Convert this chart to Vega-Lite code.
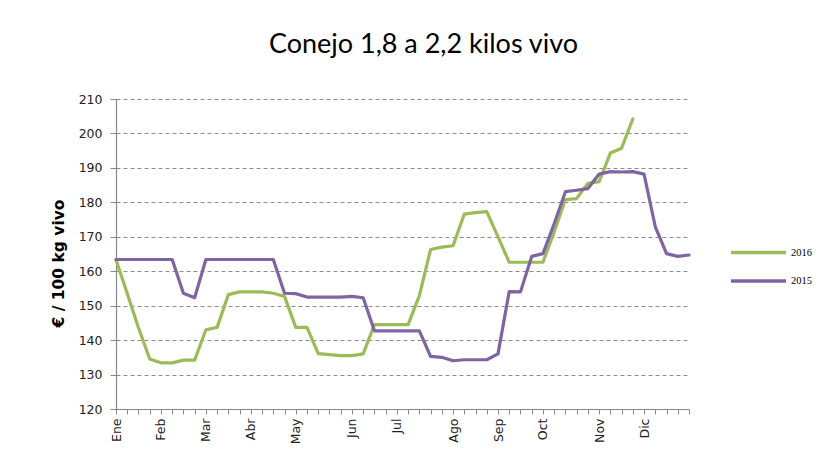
{
  "$schema": "https://vega.github.io/schema/vega-lite/v6.json",
  "autosize": {"type": "none"},
  "width": 573,
  "height": 310,
  "padding": {"left": 116, "top": 99, "right": 140, "bottom": 47},
  "background": "white",
  "title": {
    "text": "Conejo 1,8 a 2,2 kilos vivo",
    "font": "Lato",
    "fontSize": 27,
    "fontWeight": "normal",
    "color": "#000000",
    "anchor": "middle",
    "dx": 21,
    "offset": 34
  },
  "config": {
    "view": {"stroke": null},
    "axis": {
      "labelFont": "DejaVu Sans",
      "labelFontSize": 12.5,
      "labelColor": "#222222",
      "domainColor": "#888888",
      "tickColor": "#888888",
      "domainWidth": 1.2,
      "tickWidth": 1
    }
  },
  "data": {
    "values": [
      {"week": 1, "year": "2016", "price": 163.3},
      {"week": 2, "year": "2016", "price": 153.5},
      {"week": 3, "year": "2016", "price": 143.6},
      {"week": 4, "year": "2016", "price": 134.5},
      {"week": 5, "year": "2016", "price": 133.4},
      {"week": 6, "year": "2016", "price": 133.4},
      {"week": 7, "year": "2016", "price": 134.2},
      {"week": 8, "year": "2016", "price": 134.2},
      {"week": 9, "year": "2016", "price": 143.0},
      {"week": 10, "year": "2016", "price": 143.7},
      {"week": 11, "year": "2016", "price": 153.2},
      {"week": 12, "year": "2016", "price": 154.0},
      {"week": 13, "year": "2016", "price": 154.0},
      {"week": 14, "year": "2016", "price": 154.0},
      {"week": 15, "year": "2016", "price": 153.6},
      {"week": 16, "year": "2016", "price": 152.7},
      {"week": 17, "year": "2016", "price": 143.7},
      {"week": 18, "year": "2016", "price": 143.7},
      {"week": 19, "year": "2016", "price": 136.1},
      {"week": 20, "year": "2016", "price": 135.8},
      {"week": 21, "year": "2016", "price": 135.5},
      {"week": 22, "year": "2016", "price": 135.5},
      {"week": 23, "year": "2016", "price": 136.0},
      {"week": 24, "year": "2016", "price": 144.5},
      {"week": 25, "year": "2016", "price": 144.5},
      {"week": 26, "year": "2016", "price": 144.5},
      {"week": 27, "year": "2016", "price": 144.5},
      {"week": 28, "year": "2016", "price": 152.9},
      {"week": 29, "year": "2016", "price": 166.3},
      {"week": 30, "year": "2016", "price": 167.0},
      {"week": 31, "year": "2016", "price": 167.4},
      {"week": 32, "year": "2016", "price": 176.6},
      {"week": 33, "year": "2016", "price": 177.0},
      {"week": 34, "year": "2016", "price": 177.3},
      {"week": 35, "year": "2016", "price": 170.0},
      {"week": 36, "year": "2016", "price": 162.6},
      {"week": 37, "year": "2016", "price": 162.6},
      {"week": 38, "year": "2016", "price": 162.6},
      {"week": 39, "year": "2016", "price": 162.6},
      {"week": 40, "year": "2016", "price": 171.4},
      {"week": 41, "year": "2016", "price": 180.8},
      {"week": 42, "year": "2016", "price": 181.1},
      {"week": 43, "year": "2016", "price": 185.5},
      {"week": 44, "year": "2016", "price": 186.0},
      {"week": 45, "year": "2016", "price": 194.3},
      {"week": 46, "year": "2016", "price": 195.7},
      {"week": 47, "year": "2016", "price": 204.2},
      {"week": 1, "year": "2015", "price": 163.4},
      {"week": 2, "year": "2015", "price": 163.4},
      {"week": 3, "year": "2015", "price": 163.4},
      {"week": 4, "year": "2015", "price": 163.4},
      {"week": 5, "year": "2015", "price": 163.4},
      {"week": 6, "year": "2015", "price": 163.4},
      {"week": 7, "year": "2015", "price": 153.6},
      {"week": 8, "year": "2015", "price": 152.3},
      {"week": 9, "year": "2015", "price": 163.4},
      {"week": 10, "year": "2015", "price": 163.4},
      {"week": 11, "year": "2015", "price": 163.4},
      {"week": 12, "year": "2015", "price": 163.4},
      {"week": 13, "year": "2015", "price": 163.4},
      {"week": 14, "year": "2015", "price": 163.4},
      {"week": 15, "year": "2015", "price": 163.4},
      {"week": 16, "year": "2015", "price": 153.6},
      {"week": 17, "year": "2015", "price": 153.5},
      {"week": 18, "year": "2015", "price": 152.5},
      {"week": 19, "year": "2015", "price": 152.5},
      {"week": 20, "year": "2015", "price": 152.5},
      {"week": 21, "year": "2015", "price": 152.5},
      {"week": 22, "year": "2015", "price": 152.7},
      {"week": 23, "year": "2015", "price": 152.3},
      {"week": 24, "year": "2015", "price": 142.7},
      {"week": 25, "year": "2015", "price": 142.7},
      {"week": 26, "year": "2015", "price": 142.7},
      {"week": 27, "year": "2015", "price": 142.7},
      {"week": 28, "year": "2015", "price": 142.7},
      {"week": 29, "year": "2015", "price": 135.3},
      {"week": 30, "year": "2015", "price": 135.0},
      {"week": 31, "year": "2015", "price": 134.0},
      {"week": 32, "year": "2015", "price": 134.3},
      {"week": 33, "year": "2015", "price": 134.3},
      {"week": 34, "year": "2015", "price": 134.3},
      {"week": 35, "year": "2015", "price": 136.0},
      {"week": 36, "year": "2015", "price": 154.1},
      {"week": 37, "year": "2015", "price": 154.0},
      {"week": 38, "year": "2015", "price": 164.3},
      {"week": 39, "year": "2015", "price": 165.1},
      {"week": 40, "year": "2015", "price": 173.8},
      {"week": 41, "year": "2015", "price": 183.1},
      {"week": 42, "year": "2015", "price": 183.5},
      {"week": 43, "year": "2015", "price": 184.0},
      {"week": 44, "year": "2015", "price": 188.2},
      {"week": 45, "year": "2015", "price": 188.9},
      {"week": 46, "year": "2015", "price": 188.8},
      {"week": 47, "year": "2015", "price": 188.9},
      {"week": 48, "year": "2015", "price": 188.2},
      {"week": 49, "year": "2015", "price": 172.9},
      {"week": 50, "year": "2015", "price": 165.1},
      {"week": 51, "year": "2015", "price": 164.3},
      {"week": 52, "year": "2015", "price": 164.7}
    ]
  },
  "mark": {"type": "line", "strokeWidth": 3.2, "strokeJoin": "round", "strokeCap": "round"},
  "encoding": {
    "x": {
      "field": "week",
      "type": "quantitative",
      "scale": {"domain": [1, 52], "nice": false, "zero": false},
      "axis": {
        "title": null,
        "grid": false,
        "values": [1,2,3,4,5,6,7,8,9,10,11,12,13,14,15,16,17,18,19,20,21,22,23,24,25,26,27,28,29,30,31,32,33,34,35,36,37,38,39,40,41,42,43,44,45,46,47,48,49,50,51,52],
        "labelExpr": "datum.value==1?'Ene':datum.value==5?'Feb':datum.value==9?'Mar':datum.value==13?'Abr':datum.value==17?'May':datum.value==22?'Jun':datum.value==26?'Jul':datum.value==31?'Ago':datum.value==35?'Sep':datum.value==39?'Oct':datum.value==44?'Nov':datum.value==48?'Dic':''",
        "labelAngle": -90,
        "labelOverlap": false,
        "labelFlush": false,
        "labelBound": false,
        "tickSize": 5,
        "labelPadding": 4
      }
    },
    "y": {
      "field": "price",
      "type": "quantitative",
      "scale": {"domain": [120, 210], "nice": false, "zero": false},
      "axis": {
        "title": "€ / 100 kg vivo",
        "titleFont": "DejaVu Sans",
        "titleFontSize": 15.5,
        "titleFontWeight": "bold",
        "titleColor": "#000000",
        "titlePadding": 12,
        "titleY": 164,
        "values": [120,130,140,150,160,170,180,190,200,210],
        "grid": true,
        "gridColor": "#8c8c8c",
        "gridDash": [4, 3],
        "gridWidth": 1,
        "tickSize": 6,
        "labelPadding": 8
      }
    },
    "color": {
      "field": "year",
      "type": "nominal",
      "scale": {"domain": ["2016", "2015"], "range": ["#9BBB59", "#8064A2"]},
      "legend": {
        "title": null,
        "orient": "none",
        "legendX": 627,
        "legendY": 138,
        "symbolType": "M-2,0H2",
        "symbolSize": 756,
        "symbolStrokeWidth": 3.5,
        "labelFont": "Liberation Serif",
        "labelFontSize": 10.5,
        "labelColor": "#000000",
        "labelOffset": 17,
        "rowPadding": 5.5
      }
    }
  }
}
